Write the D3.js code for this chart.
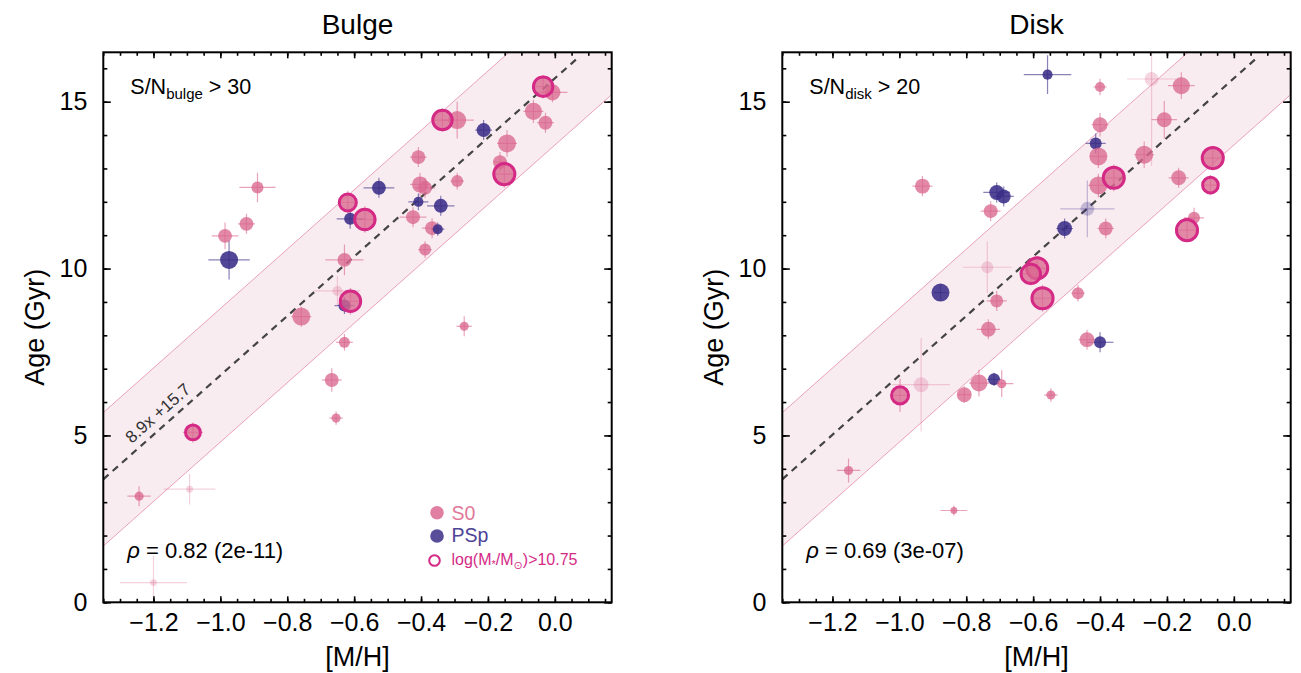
<!DOCTYPE html>
<html lang="en">
  <head>
    <meta charset="utf-8">
    <title>Age vs [M/H]: bulge and disk</title>
    <script type="text/javascript" src="https://cdn.jsdelivr.net/npm/d3@7"></script>
    <style>
      body { margin: 0; background: #fff; }
      svg text { font-family: "Liberation Sans", Arial, Helvetica, sans-serif; fill: #000; }
      .frame { fill: none; stroke: #000; stroke-width: 2; }
      .axis path { display: none; }
      .axis line { stroke: #000; stroke-width: 1.6; }
      .axis text { font-size: 25px; }
    </style>
  </head>
  <body>
    <script type="text/javascript">
      // ---- bulge panel ([M/H], age in Gyr) ----
      var bulgeMH   = [-0.035, -0.007, -0.064, -0.028, -0.292, -0.336, -0.213, -0.143, -0.408, -0.164,
                       -0.151, -0.292, -0.403, -0.388, -0.526, -0.889, -0.619, -0.408, -0.341, -0.568,
                       -0.612, -0.424, -0.922, -0.367, -0.350, -0.986, -0.974, -0.388, -0.629, -0.650,
                       -0.629, -0.611, -0.758, -0.271, -0.629, -0.667, -0.654, -1.082, -1.243, -1.092, -1.200];
      var bulgeAge  = [15.45, 15.28, 14.71, 14.37, 14.45, 14.45, 14.15, 13.75, 13.34, 13.19,
                       12.83, 12.62, 12.52, 12.42, 12.42, 12.43, 11.98, 12.00, 11.88, 11.47,
                       11.49, 11.54, 11.34, 11.21, 11.18, 10.98, 10.26, 10.57, 10.26, 9.33,
                       8.89, 9.02, 8.56, 8.27, 7.79, 6.66, 5.52, 5.09, 3.18, 3.39, 0.59];
      var bulgeType = ["S0","S0","S0","S0","S0","S0","PSp","S0","S0","S0",
                       "S0","S0","S0","S0","PSp","S0","S0","PSp","PSp","S0",
                       "PSp","S0","S0","S0","PSp","S0","PSp","S0","S0","S0",
                       "PSp","S0","S0","S0","S0","S0","S0","S0","S0","S0","S0"];
      var bulgeSN   = [81, 67, 71, 58, 75, 81, 58, 75, 58, 58,
                       88, 50, 67, 58, 58, 50, 71, 42, 58, 85,
                       50, 58, 58, 58, 42, 58, 75, 50, 58, 42,
                       50, 85, 75, 38, 46, 58, 38, 62, 38, 29, 29];
      var bulgeMassive = [1,0,0,0,0,1,0,0,0,0, 1,0,0,0,0,0,1,0,0,1, 0,0,0,0,0,0,0,0,0,0, 0,1,0,0,0,0,0,1,0,0,0];
      var bulgeFaint   = [0,0,0,0,0,0,0,0,0,0, 0,0,0,0,0,0,0,0,0,0, 0,0,0,0,0,0,0,0,0,1, 0,0,0,0,0,0,0,0,0,1,1];
      var bulgeMHerr  = [0.03, 0.045, 0.03, 0.025, 0.05, 0.03, 0.025, 0.03, 0.025, 0.02,
                         0.03, 0.02, 0.03, 0.03, 0.046, 0.054, 0.03, 0.03, 0.041, 0.035,
                         0.04, 0.04, 0.025, 0.03, 0.02, 0.04, 0.062, 0.02, 0.057, 0.069,
                         0.03, 0.03, 0.03, 0.023, 0.025, 0.03, 0.02, 0.03, 0.035, 0.077, 0.10];
      var bulgeAgeErr = [0.35, 0.3, 0.35, 0.3, 0.55, 0.35, 0.3, 0.4, 0.3, 0.3,
                         0.4, 0.25, 0.35, 0.3, 0.3, 0.44, 0.35, 0.25, 0.3, 0.4,
                         0.3, 0.3, 0.3, 0.3, 0.2, 0.4, 0.59, 0.25, 0.46, 0.44,
                         0.25, 0.4, 0.3, 0.3, 0.25, 0.35, 0.2, 0.3, 0.3, 0.46, 0.8];

      // ---- disk panel ----
      var diskMH   = [-0.557, -0.400, -0.246, -0.157, -0.208, -0.400, -0.413, -0.405, -0.268, -0.063,
                      -0.359, -0.405, -0.165, -0.931, -0.709, -0.688, -0.070, -0.727, -0.438, -0.119,
                      -0.506, -0.383, -0.140, -0.588, -0.607, -0.737, -0.877, -0.572, -0.709, -0.466,
                      -0.734, -0.439, -0.400, -0.935, -0.762, -0.717, -0.694, -0.806, -0.998, -0.547,
                      -1.152, -0.837];
      var diskAge  = [15.81, 15.44, 15.68, 15.48, 14.46, 14.31, 13.75, 13.36, 13.41, 13.31,
                      12.72, 12.49, 12.72, 12.47, 12.28, 12.16, 12.50, 11.72, 11.79, 11.52,
                      11.20, 11.20, 11.15, 10.01, 9.84, 10.04, 9.28, 9.11, 9.03, 9.26,
                      8.18, 7.87, 7.79, 6.52, 6.57, 6.68, 6.55, 6.22, 6.20, 6.21,
                      3.95, 2.75];
      var diskType = ["PSp","S0","S0","S0","S0","S0","PSp","S0","S0","S0",
                      "S0","S0","S0","S0","PSp","PSp","S0","S0","PSp","S0",
                      "PSp","S0","S0","S0","S0","S0","PSp","S0","S0","S0",
                      "S0","S0","PSp","S0","S0","PSp","S0","S0","S0","S0",
                      "S0","S0"];
      var diskSN   = [42, 42, 58, 71, 62, 62, 50, 75, 75, 88,
                      88, 75, 62, 62, 62, 58, 65, 58, 58, 50,
                      62, 58, 88, 88, 81, 50, 75, 88, 54, 50,
                      62, 62, 50, 62, 71, 50, 38, 62, 71, 38,
                      38, 29];
      var diskMassive = [0,0,0,0,0,0,0,0,0,1, 1,0,0,0,0,0,1,0,0,0, 0,0,1,1,1,0,0,1,0,0, 0,0,0,0,0,0,0,0,1,0, 0,0];
      var diskFaint   = [0,0,1,0,0,0,0,0,0,0, 0,0,0,0,0,0,0,0,1,0, 0,0,0,0,0,1,0,0,0,0, 0,0,0,1,0,0,0,0,0,0, 0,0];
      var diskMHerr  = [0.071, 0.02, 0.073, 0.04, 0.038, 0.025, 0.03, 0.025, 0.03, 0.03,
                        0.03, 0.03, 0.03, 0.03, 0.04, 0.03, 0.025, 0.03, 0.081, 0.03,
                        0.025, 0.025, 0.03, 0.03, 0.03, 0.073, 0.02, 0.03, 0.03, 0.02,
                        0.035, 0.025, 0.04, 0.086, 0.03, 0.02, 0.035, 0.02, 0.03, 0.02,
                        0.035, 0.04];
      var diskAgeErr = [0.58, 0.25, 2.6, 0.4, 0.56, 0.35, 0.3, 0.35, 0.4, 0.35,
                        0.4, 0.35, 0.3, 0.3, 0.3, 0.3, 0.3, 0.3, 0.85, 0.3,
                        0.3, 0.3, 0.35, 0.35, 0.35, 0.77, 0.25, 0.4, 0.3, 0.25,
                        0.3, 0.3, 0.3, 1.4, 0.4, 0.2, 0.4, 0.25, 0.5, 0.2,
                        0.36, 0.15];

      // axes and fit
      var mhDomain = [-1.35, 0.17];
      var ageDomain = [0, 16.48];
      var mhTicks = [-1.2, -1.0, -0.8, -0.6, -0.4, -0.2, 0.0];
      var ageTicks = [0, 5, 10, 15];
      var fitSlope = 8.9, fitIntercept = 15.7, fitBand = 2.0;

      var w = 1301, h = 673;
      var plotW = 508.4, plotTop = 52.3, plotBottom = 602.3;

      var colors = { S0: "#da6890", PSp: "#3a2e87", ring: "#d42a86", band: "#f9ecf1", bandEdge: "#e58aad" };

      var svg = d3.select("body")
                  .append("svg")
                  .attr("width", w)
                  .attr("height", h);

      function fit(m) { return fitSlope * m + fitIntercept; }

      function rows(mh, age, type, sn, massive, faint, xe, ye) {
        return mh.map(function (d, i) {
          return { mh: d, age: age[i], type: type[i], sn: sn[i], massive: massive[i],
                   faint: faint[i], xe: xe[i], ye: ye[i] };
        });
      }

      var rScale = d3.scaleLinear().domain([0, 100]).range([0, 12]);

      function drawPanel(p) {
        var x = d3.scaleLinear().domain(mhDomain).range([p.left, p.left + plotW]);
        var y = d3.scaleLinear().domain(ageDomain).range([plotBottom, plotTop]);

        svg.append("clipPath")
           .attr("id", "clip-" + p.key)
           .append("rect")
           .attr("x", p.left)
           .attr("y", plotTop)
           .attr("width", plotW)
           .attr("height", plotBottom - plotTop);

        var g = svg.append("g").attr("clip-path", "url(#clip-" + p.key + ")");

        // scatter band around the fit
        var ends = [mhDomain[0] - 0.1, mhDomain[1] + 0.1];
        g.append("path")
         .datum(ends)
         .attr("d", d3.area()
                      .x(function (d) { return x(d); })
                      .y0(function (d) { return y(fit(d) - fitBand); })
                      .y1(function (d) { return y(fit(d) + fitBand); }))
         .attr("fill", colors.band);

        [-fitBand, fitBand].forEach(function (off) {
          g.append("path")
           .datum(ends)
           .attr("d", d3.line()
                        .x(function (d) { return x(d); })
                        .y(function (d) { return y(fit(d) + off); }))
           .attr("fill", "none")
           .attr("stroke", colors.bandEdge)
           .attr("stroke-width", 0.8);
        });

        // dashed fit line
        g.append("path")
         .datum([mhDomain[0], (16.32 - fitIntercept) / fitSlope])
         .attr("d", d3.line()
                      .x(function (d) { return x(d); })
                      .y(function (d) { return y(fit(d)); }))
         .attr("fill", "none")
         .attr("stroke", "#444")
         .attr("stroke-width", 2.2)
         .attr("stroke-dasharray", "7,5.5");

        // error bars
        var bars = g.append("g");
        p.data.forEach(function (d) {
          var c = colors[d.type];
          var op = d.faint ? 0.3 : 0.6;
          bars.append("line")
              .attr("x1", x(d.mh - d.xe)).attr("x2", x(d.mh + d.xe))
              .attr("y1", y(d.age)).attr("y2", y(d.age))
              .attr("stroke", c).attr("stroke-opacity", op).attr("stroke-width", 1.2);
          bars.append("line")
              .attr("x1", x(d.mh)).attr("x2", x(d.mh))
              .attr("y1", y(d.age - d.ye)).attr("y2", y(d.age + d.ye))
              .attr("stroke", c).attr("stroke-opacity", op).attr("stroke-width", 1.2);
        });

        // points, massive galaxies on top
        var ordered = p.data.slice().sort(function (a, b) { return a.massive - b.massive; });
        g.append("g")
         .selectAll("circle")
         .data(ordered)
         .enter()
         .append("circle")
         .attr("cx", function (d) { return x(d.mh); })
         .attr("cy", function (d) { return y(d.age); })
         .attr("r", function (d) { return rScale(d.sn); })
         .attr("fill", function (d) { return colors[d.type]; })
         .attr("fill-opacity", function (d) { return d.faint ? 0.28 : (d.type === "PSp" ? 0.88 : 0.78); })
         .attr("stroke", function (d) { return d.massive ? colors.ring : "none"; })
         .attr("stroke-width", 3);

        // ticks on all four sides, pointing inward
        var fmtX = d3.format(".1f");
        var minorX = d3.range(-1.35, 0.1701, 0.05);
        var minorY = d3.range(0, 17, 1);

        svg.append("g").attr("class", "axis")
           .attr("transform", "translate(0," + plotBottom + ")")
           .call(d3.axisBottom(x).tickValues(minorX).tickSize(-3.5).tickFormat(""));
        svg.append("g").attr("class", "axis")
           .attr("transform", "translate(0," + plotBottom + ")")
           .call(d3.axisBottom(x).tickValues(mhTicks).tickSize(-6).tickPadding(11).tickFormat(fmtX));
        svg.append("g").attr("class", "axis")
           .attr("transform", "translate(0," + plotTop + ")")
           .call(d3.axisTop(x).tickValues(minorX).tickSize(-3.5).tickFormat(""));
        svg.append("g").attr("class", "axis")
           .attr("transform", "translate(0," + plotTop + ")")
           .call(d3.axisTop(x).tickValues(mhTicks).tickSize(-6).tickFormat(""));

        svg.append("g").attr("class", "axis")
           .attr("transform", "translate(" + p.left + ",0)")
           .call(d3.axisLeft(y).tickValues(minorY).tickSize(-4).tickFormat(""));
        svg.append("g").attr("class", "axis")
           .attr("transform", "translate(" + p.left + ",0)")
           .call(d3.axisLeft(y).tickValues(ageTicks).tickSize(-7.5).tickPadding(16).tickFormat(d3.format("d")));
        svg.append("g").attr("class", "axis")
           .attr("transform", "translate(" + (p.left + plotW) + ",0)")
           .call(d3.axisRight(y).tickValues(minorY).tickSize(-4).tickFormat(""));
        svg.append("g").attr("class", "axis")
           .attr("transform", "translate(" + (p.left + plotW) + ",0)")
           .call(d3.axisRight(y).tickValues(ageTicks).tickSize(-7.5).tickFormat(""));

        svg.append("rect")
           .attr("class", "frame")
           .attr("x", p.left)
           .attr("y", plotTop)
           .attr("width", plotW)
           .attr("height", plotBottom - plotTop);

        // titles and labels
        svg.append("text")
           .attr("x", p.left + plotW / 2)
           .attr("y", 34)
           .attr("text-anchor", "middle")
           .style("font-size", "28px")
           .text(p.title);

        svg.append("text")
           .attr("x", p.left + plotW / 2)
           .attr("y", 666)
           .attr("text-anchor", "middle")
           .style("font-size", "27px")
           .text("[M/H]");

        svg.append("text")
           .attr("transform", "translate(" + (p.left - 59) + "," + ((plotTop + plotBottom) / 2) + ") rotate(-90)")
           .attr("text-anchor", "middle")
           .style("font-size", "27px")
           .text("Age (Gyr)");

        var sn = svg.append("text")
                    .attr("x", p.left + 27)
                    .attr("y", 93.5)
                    .style("font-size", "21.5px");
        sn.append("tspan").text("S/N");
        sn.append("tspan").attr("dy", 5).style("font-size", "15px").text(p.snSub);
        sn.append("tspan").attr("dy", -5).text(" > " + p.snCut);

        var rho = svg.append("text")
                     .attr("x", p.left + 24)
                     .attr("y", 558)
                     .style("font-size", "22px");
        rho.append("tspan").style("font-style", "italic").text("\u03c1");
        rho.append("tspan").text(" = " + p.rho);

        return { x: x, y: y };
      }

      var left = drawPanel({ key: "bulge", title: "Bulge", left: 103.3, snSub: "bulge", snCut: 30,
                             rho: "0.82 (2e-11)",
                             data: rows(bulgeMH, bulgeAge, bulgeType, bulgeSN, bulgeMassive, bulgeFaint, bulgeMHerr, bulgeAgeErr) });
      drawPanel({ key: "disk", title: "Disk", left: 782.3, snSub: "disk", snCut: 20,
                  rho: "0.69 (3e-07)",
                  data: rows(diskMH, diskAge, diskType, diskSN, diskMassive, diskFaint, diskMHerr, diskAgeErr) });

      // fit label along the line in the bulge panel
      var lx = -1.25;
      var angle = Math.atan2(left.y(fit(lx + 0.1)) - left.y(fit(lx)), left.x(lx + 0.1) - left.x(lx)) * 180 / Math.PI;
      svg.append("text")
         .attr("transform", "translate(" + left.x(lx) + "," + left.y(fit(lx)) + ") rotate(" + angle + ")")
         .attr("dy", -7.5)
         .style("font-size", "17px")
         .style("fill", "#333")
         .text("8.9x +15.7");

      // legend (bulge panel)
      var lg = svg.append("g").attr("transform", "translate(437,0)");
      lg.append("circle").attr("cx", 0).attr("cy", 512.7).attr("r", 6.8)
        .attr("fill", colors.S0).attr("fill-opacity", 0.85);
      lg.append("text").attr("x", 14.5).attr("y", 519.5).style("font-size", "19.5px")
        .style("fill", "#e07a9a").text("S0");
      lg.append("circle").attr("cx", 0).attr("cy", 536).attr("r", 6.8)
        .attr("fill", colors.PSp).attr("fill-opacity", 0.85);
      lg.append("text").attr("x", 14.5).attr("y", 542).style("font-size", "19.5px")
        .style("fill", "#4d4496").text("PSp");
      lg.append("circle").attr("cx", -2.5).attr("cy", 560.5).attr("r", 5.3)
        .attr("fill", "none").attr("stroke", colors.ring).attr("stroke-width", 2);
      var lt = lg.append("text").attr("x", 14.5).attr("y", 564.5).style("font-size", "16px")
                 .style("fill", colors.ring);
      lt.append("tspan").text("log(M");
      lt.append("tspan").attr("dy", 3).style("font-size", "11px").text("*");
      lt.append("tspan").attr("dy", -3).text("/M");
      lt.append("tspan").attr("dy", 4).style("font-size", "11px").style("font-family", "DejaVu Sans").text("\u2299");
      lt.append("tspan").attr("dy", -4).text(")>10.75");
    </script>
  </body>
</html>
